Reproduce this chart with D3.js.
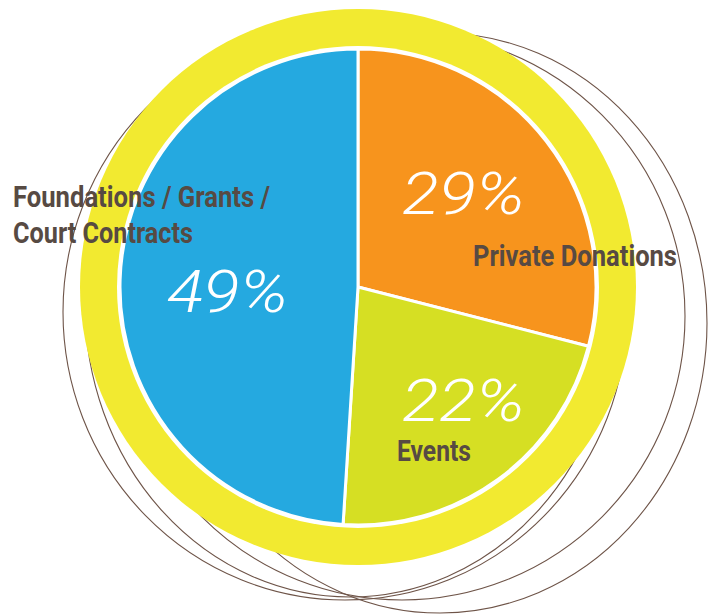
<!DOCTYPE html>
<html>
<head>
<meta charset="utf-8">
<script src="https://cdn.jsdelivr.net/npm/d3@7"></script>
<style>
    body { margin: 0; background: #fff; }
    svg { display: block; }
    .cat { font-family: Roboto, "Liberation Sans", sans-serif; font-weight: 700; fill: #574a43; font-size: 29px; }
    .pct { font-family: Roboto, "Open Sans", sans-serif; font-weight: 300; font-style: italic; fill: #fff; font-size: 60px; }
</style>
</head>
<body>
<div id="chart"></div>
<script>
// data
const categories = ['Private Donations', 'Events', 'Foundations / Grants / Court Contracts'];
const shares = [29, 22, 49];
const labelLines = [['Private Donations'], ['Events'], ['Foundations / Grants /', 'Court Contracts']];
const sliceColors = ['#f7941d', '#d6df23', '#25a9e0'];

// layout
const width = 708, height = 616;
const cx = 358, cy = 287;
const pieR = 238, ringInner = 241, ringOuter = 278;

// where the text sits (left x, baseline y, fitted width)
const catPos = [
    { x: 473, y: 266, w: 204 },
    { x: 397, y: 461, w: 74 },
    { x: 13, y: 207, w: [257, 180], lh: 36 }
];
const pctPos = [
    { x: 402, y: 214, w: 123 },
    { x: 402, y: 421, w: 123 },
    { x: 167, y: 312, w: 121 }
];

// decorative thin rings behind the yellow band
const rings = [
    { x: 345, y: 312, rx: 282, ry: 288 },
    { x: 350, y: 305, rx: 265, ry: 292 },
    { x: 402, y: 316, rx: 283, ry: 284 },
    { x: 440, y: 323, rx: 267, ry: 290 }
];

const svg = d3.select('#chart')
    .append('svg')
    .attr('width', width)
    .attr('height', height);

svg.append('g')
    .selectAll('ellipse')
    .data(rings)
    .join('ellipse')
    .attr('cx', d => d.x)
    .attr('cy', d => d.y)
    .attr('rx', d => d.rx)
    .attr('ry', d => d.ry)
    .attr('fill', 'none')
    .attr('stroke', '#6e5448')
    .attr('stroke-width', 1.1);

const g = svg.append('g').attr('transform', `translate(${cx},${cy})`);

// yellow band + white gap
g.append('circle').attr('r', ringOuter).attr('fill', '#f2ea30');
g.append('circle').attr('r', ringInner).attr('fill', '#fff');

const pie = d3.pie().sort(null).value(d => d);
const arc = d3.arc().innerRadius(0).outerRadius(pieR);
const arcs = pie(shares);

g.selectAll('path.slice')
    .data(arcs)
    .join('path')
    .attr('class', 'slice')
    .attr('d', arc)
    .attr('fill', (d, i) => sliceColors[i])
    .attr('stroke', '#fff')
    .attr('stroke-width', 3)
    .attr('stroke-linejoin', 'round');

// percentages
svg.append('g')
    .selectAll('text')
    .data(shares)
    .join('text')
    .attr('class', 'pct')
    .attr('x', (d, i) => pctPos[i].x)
    .attr('y', (d, i) => pctPos[i].y)
    .attr('textLength', (d, i) => pctPos[i].w)
    .attr('lengthAdjust', 'spacingAndGlyphs')
    .text(d => `${d}%`);

// category labels
const cat = svg.append('g');
labelLines.forEach((lines, i) => {
    const p = catPos[i];
    lines.forEach((line, j) => {
        cat.append('text')
            .attr('class', 'cat')
            .attr('x', p.x)
            .attr('y', p.y + j * (p.lh || 0))
            .attr('textLength', Array.isArray(p.w) ? p.w[j] : p.w)
            .attr('lengthAdjust', 'spacingAndGlyphs')
            .text(line);
    });
});
</script>
</body>
</html>
